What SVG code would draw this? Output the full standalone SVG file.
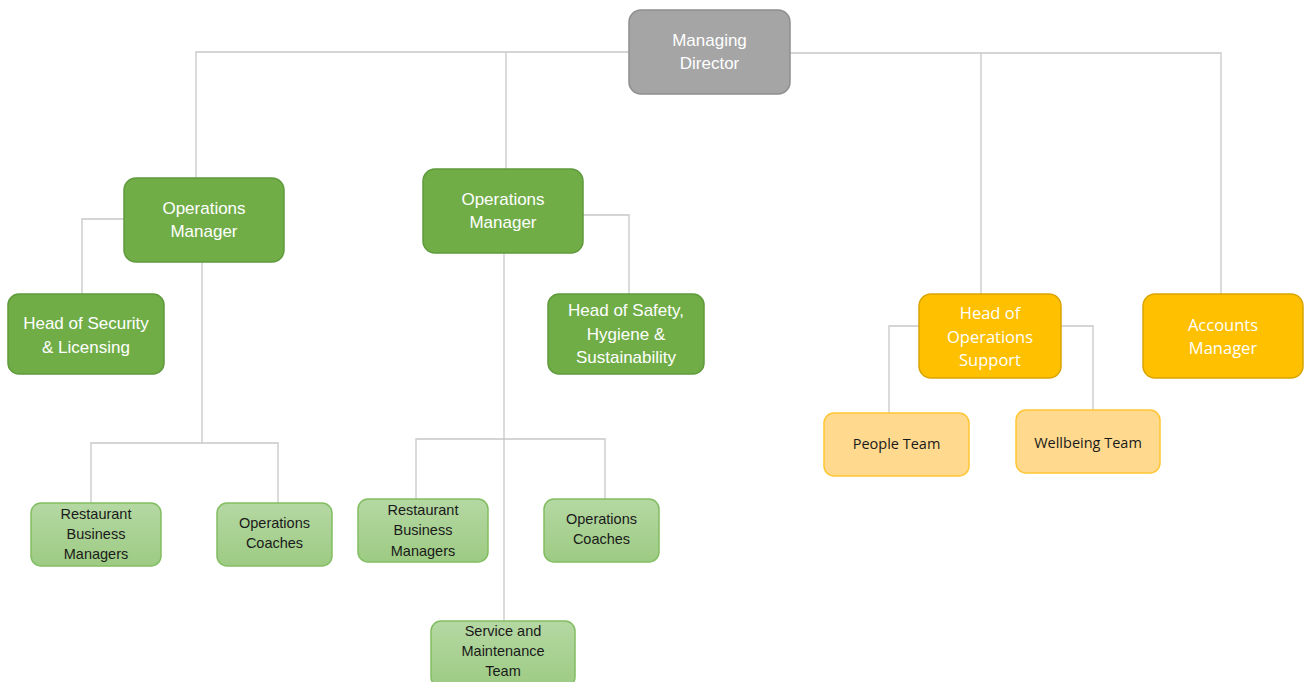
<svg xmlns="http://www.w3.org/2000/svg" width="1304" height="682" viewBox="0 0 1304 682">
<defs>
<linearGradient id="lg" x1="0" y1="0" x2="0" y2="1"><stop offset="0" stop-color="#b5d8a3"/><stop offset="1" stop-color="#9dcb83"/></linearGradient>
<style>
.c{fill:none;stroke:#c8c8c8;stroke-width:1.3}
.md{fill:#a5a5a5;stroke:#8e8e8e;stroke-width:1.5}
.g{fill:#70ad47;stroke:#5f9a3b;stroke-width:1.5}
.lg{fill:url(#lg);stroke:#82bd62;stroke-width:1.5}
.y{fill:#ffc000;stroke:#d9a400;stroke-width:1.5}
.ly{fill:#ffd98e;stroke:#ffc633;stroke-width:1.5}
.t{font-family:"Liberation Sans",Arial,sans-serif;font-size:17px;fill:#ffffff;text-anchor:middle}
.s{font-family:"Liberation Sans",Arial,sans-serif;font-size:14.5px;fill:#1a1a1a;text-anchor:middle}
.ty{font-family:"Open Sans","Liberation Sans",sans-serif;font-size:16.5px;fill:#ffffff;text-anchor:middle}
.sy{font-family:"Open Sans","Liberation Sans",sans-serif;font-size:14.5px;fill:#1a1a1a;text-anchor:middle}
</style>
</defs>
<rect width="1304" height="682" fill="#ffffff"/>
<g id="connectors">
<path class="c" d="M629,52 H196 V178"/>
<path class="c" d="M506,52 V169"/>
<path class="c" d="M790,53 H1221 V294"/>
<path class="c" d="M981,53 V294"/>
<path class="c" d="M124,219 H82 V294"/>
<path class="c" d="M202,262 V443"/>
<path class="c" d="M91,503 V443 H278 V503"/>
<path class="c" d="M583,215 H629 V294"/>
<path class="c" d="M504,253 V621"/>
<path class="c" d="M416,499 V439 H605 V499"/>
<path class="c" d="M919,326 H889 V413"/>
<path class="c" d="M1061,326 H1093 V410"/>
</g>
<g id="managing-director">
<rect class="md" x="629" y="10" width="161" height="84" rx="12"/>
<text class="t" x="709.5" y="46">Managing</text>
<text class="t" x="709.5" y="69">Director</text>
</g>
<g id="operations-manager-1">
<rect class="g" x="124" y="178" width="160" height="84" rx="12"/>
<text class="t" x="204" y="214">Operations</text>
<text class="t" x="204" y="237">Manager</text>
</g>
<g id="operations-manager-2">
<rect class="g" x="423" y="169" width="160" height="84" rx="12"/>
<text class="t" x="503" y="205">Operations</text>
<text class="t" x="503" y="228">Manager</text>
</g>
<g id="head-of-security">
<rect class="g" x="8" y="294" width="156" height="80" rx="11"/>
<text class="t" x="86" y="329">Head of Security</text>
<text class="t" x="86" y="353">&amp; Licensing</text>
</g>
<g id="head-of-safety">
<rect class="g" x="548" y="294" width="156" height="80" rx="11"/>
<text class="t" x="626" y="316">Head of Safety,</text>
<text class="t" x="626" y="340">Hygiene &amp;</text>
<text class="t" x="626" y="363">Sustainability</text>
</g>
<g id="restaurant-business-managers-1">
<rect class="lg" x="31" y="503" width="130" height="63" rx="10"/>
<text class="s" x="96" y="519">Restaurant</text>
<text class="s" x="96" y="539">Business</text>
<text class="s" x="96" y="559">Managers</text>
</g>
<g id="operations-coaches-1">
<rect class="lg" x="217" y="503" width="115" height="63" rx="10"/>
<text class="s" x="274.5" y="528">Operations</text>
<text class="s" x="274.5" y="548">Coaches</text>
</g>
<g id="restaurant-business-managers-2">
<rect class="lg" x="358" y="499" width="130" height="63" rx="10"/>
<text class="s" x="423" y="515">Restaurant</text>
<text class="s" x="423" y="535">Business</text>
<text class="s" x="423" y="556">Managers</text>
</g>
<g id="operations-coaches-2">
<rect class="lg" x="544" y="499" width="115" height="63" rx="10"/>
<text class="s" x="601.5" y="524">Operations</text>
<text class="s" x="601.5" y="544">Coaches</text>
</g>
<g id="service-maintenance-team">
<rect class="lg" x="431" y="621" width="144" height="66" rx="10"/>
<text class="s" x="503" y="636">Service and</text>
<text class="s" x="503" y="656">Maintenance</text>
<text class="s" x="503" y="676">Team</text>
</g>
<g id="head-of-operations-support">
<rect class="y" x="919" y="294" width="142" height="84" rx="12"/>
<text class="ty" x="990" y="319">Head of</text>
<text class="ty" x="990" y="343">Operations</text>
<text class="ty" x="990" y="366">Support</text>
</g>
<g id="accounts-manager">
<rect class="y" x="1143" y="294" width="160" height="84" rx="12"/>
<text class="ty" x="1223" y="331">Accounts</text>
<text class="ty" x="1223" y="354">Manager</text>
</g>
<g id="people-team">
<rect class="ly" x="824" y="413" width="145" height="63" rx="10"/>
<text class="sy" x="896.5" y="449">People Team</text>
</g>
<g id="wellbeing-team">
<rect class="ly" x="1016" y="410" width="144" height="63" rx="10"/>
<text class="sy" x="1088" y="448">Wellbeing Team</text>
</g>
</svg>
